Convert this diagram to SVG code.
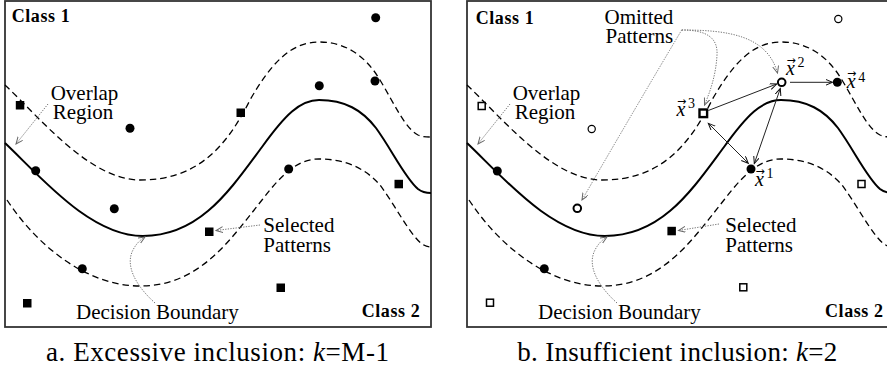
<svg xmlns="http://www.w3.org/2000/svg" width="887" height="369" viewBox="0 0 887 369">
<style>
.box{fill:#fff;stroke:#333;stroke-width:1.8}
.db{fill:none;stroke:#000;stroke-width:2}
.dash{fill:none;stroke:#000;stroke-width:1.3;stroke-dasharray:6.5 4}
.dot{fill:none;stroke:#777;stroke-width:1;stroke-dasharray:1.3 1.3}
.vec{fill:none;stroke:#222;stroke-width:1}
.lbl{font-size:21px}
.cls{font-size:18px;font-weight:bold}
.cap{font-size:27px}
.vx{font-size:20px;font-style:italic}
.va{font-size:11px;font-style:normal}
.sup{font-size:14px;font-style:normal}
.fc{fill:#000}
.oc{fill:#fff;stroke:#000;stroke-width:1.2}
.toc{fill:#fff;stroke:#000;stroke-width:2}
.os{fill:#fff;stroke:#000;stroke-width:1.5}
.tos{fill:#fff;stroke:#000;stroke-width:2.4}
</style>
<defs>
<marker id="ag" markerUnits="userSpaceOnUse" markerWidth="10" markerHeight="10" refX="7" refY="3" orient="auto"><path d="M0,0 L7,3 L0,6" fill="none" stroke="#666" stroke-width="1"/></marker>
<marker id="ab" markerUnits="userSpaceOnUse" markerWidth="10" markerHeight="10" refX="7" refY="3" orient="auto-start-reverse"><path d="M0,0 L7,3 L0,6" fill="none" stroke="#111" stroke-width="1"/></marker>
<path id="cSolid" d="M5,143 C40,176 90,236 143,236 C200,236 230,190 262,147 C285,115 300,100 319,100 C345,100 362,110 376,128 C392,150 405,178 418,189 C423,193 427,193 431,193"/>
<path id="cUp" d="M5,85 C40,118 90,180 140,180 C195,180 225,150 250,100 C270,65 290,42 319,42 C345,42 365,55 380,80 C395,105 405,128 418,135 C423,137 427,137 431,137"/>
<path id="cLow" d="M7,200 C40,250 90,286 140,286 C200,286 230,240 262,200 C285,170 300,159 319,159 C345,159 365,168 380,185 C395,205 410,235 422,244 C425,246 428,247 431,247"/>
</defs>

<!-- Panel a -->
<g id="panel-a">
  <rect class="box" x="5" y="1" width="426" height="326"/>
  <g id="curves-a">
    <use href="#cUp" class="dash"/>
    <use href="#cSolid" class="db"/>
    <use href="#cLow" class="dash"/>
  </g>
  <g id="a-nodes">
    <g id="a-p1"><circle class="fc" cx="375.7" cy="17.7" r="4.5"/></g>
    <g id="a-p2"><circle class="fc" cx="319.3" cy="85.7" r="4.5"/></g>
    <g id="a-p3"><circle class="fc" cx="375" cy="81" r="4.5"/></g>
    <g id="a-p4"><circle class="fc" cx="130" cy="128.3" r="4.5"/></g>
    <g id="a-p5"><circle class="fc" cx="35.7" cy="170.7" r="4.5"/></g>
    <g id="a-p6"><circle class="fc" cx="288.7" cy="169" r="4.5"/></g>
    <g id="a-p7"><circle class="fc" cx="114.3" cy="208.7" r="4.5"/></g>
    <g id="a-p8"><circle class="fc" cx="82.3" cy="268.7" r="4.5"/></g>
    <g id="a-q1"><rect class="fc" x="15.8" y="101" width="8.5" height="8.5"/></g>
    <g id="a-q2"><rect class="fc" x="236.5" y="108.5" width="8.5" height="8.5"/></g>
    <g id="a-q3"><rect class="fc" x="394.5" y="179.8" width="8.5" height="8.5"/></g>
    <g id="a-q4"><rect class="fc" x="205" y="227.5" width="8.5" height="8.5"/></g>
    <g id="a-q5"><rect class="fc" x="276.5" y="283.5" width="8.5" height="8.5"/></g>
    <g id="a-q6"><rect class="fc" x="23" y="299" width="8.5" height="8.5"/></g>
  </g>
  <g id="a-connectors">
    <path class="dot" d="M48,104 L16,144" marker-end="url(#ag)"/>
    <path class="dot" d="M260,225 L216,230.5" marker-end="url(#ag)"/>
    <path class="dot" d="M155,303 C135,285 125,265 133,250 C136,244 140,240 145,237" marker-end="url(#ag)"/>
  </g>
  <g id="a-labels" font-family="Liberation Serif, Times New Roman, serif" fill="#000">
    <text class="cls" x="11.7" y="21.7" textLength="58">Class 1</text>
    <text class="cls" x="361.7" y="316.7" textLength="58">Class 2</text>
    <text class="lbl" x="50.7" y="100">Overlap</text>
    <text class="lbl" x="52.7" y="119">Region</text>
    <text class="lbl" x="263.3" y="231.7">Selected</text>
    <text class="lbl" x="263.3" y="251.7">Patterns</text>
    <text class="lbl" x="76" y="319">Decision Boundary</text>
  </g>
</g>

<!-- Panel b -->
<g id="panel-b" transform="translate(462,0)">
  <rect class="box" x="5" y="1" width="426" height="326"/>
  <g id="curves-b">
    <use href="#cUp" class="dash"/>
    <use href="#cSolid" class="db"/>
    <use href="#cLow" class="dash"/>
  </g>
  <g id="b-nodes">
    <g id="b-o1"><circle class="oc" cx="376.3" cy="19" r="3.6"/></g>
    <g id="b-o2"><circle class="oc" cx="129.7" cy="129" r="3.6"/></g>
    <g id="b-s1"><rect class="os" x="16.2" y="102.5" width="7" height="7"/></g>
    <g id="b-s2"><rect class="os" x="24.5" y="299.2" width="7" height="7"/></g>
    <g id="b-s3"><rect class="os" x="277.8" y="283.8" width="7" height="7"/></g>
    <g id="b-s4"><rect class="os" x="396" y="180.5" width="7" height="7"/></g>
    <g id="b-f1"><circle class="fc" cx="35.3" cy="171" r="4.5"/></g>
    <g id="b-f2"><circle class="fc" cx="82.3" cy="268.7" r="4.5"/></g>
    <g id="b-om"><circle class="toc" cx="115.3" cy="208.3" r="3.8"/></g>
    <g id="b-sel"><rect class="fc" x="205.4" y="226.8" width="8.5" height="8.5"/></g>
    <g id="b-x1"><circle class="fc" cx="289" cy="169" r="4.5"/></g>
    <g id="b-x2"><circle class="toc" cx="319.7" cy="82.3" r="3.8"/></g>
    <g id="b-x3"><rect class="tos" x="237.5" y="109.5" width="7.6" height="7.6"/></g>
    <g id="b-x4"><circle class="fc" cx="375.3" cy="82.3" r="4.5"/></g>
  </g>
  <g id="b-connectors">
    <path class="dot" d="M48,104 L16,144" marker-end="url(#ag)"/>
    <path class="dot" d="M257,224 L216.5,230.5" marker-end="url(#ag)"/>
    <path class="dot" d="M155,303 C135,285 125,265 133,250 C136,244 140,240 145,237" marker-end="url(#ag)"/>
    <path class="dot" d="M219.7,30 C265,30 305,35 315.5,73" marker-end="url(#ag)"/>
    <path class="dot" d="M219.7,30 C245,30 256,38 255,55 C254,75 248,92 242.5,105" marker-end="url(#ag)"/>
    <path class="dot" d="M219.7,30 Q175,105 120,200" marker-end="url(#ag)"/>
    <path class="vec" d="M246.3,110.5 L314.7,84" marker-end="url(#ab)"/>
    <path class="vec" d="M246.3,123.3 L286.3,163.3" marker-start="url(#ab)" marker-end="url(#ab)"/>
    <path class="vec" d="M318.3,88.5 L292.3,163.5" marker-start="url(#ab)" marker-end="url(#ab)"/>
    <path class="vec" d="M328,82.3 L370.5,82.3" marker-end="url(#ab)"/>
  </g>
  <g id="b-labels" font-family="Liberation Serif, Times New Roman, serif" fill="#000">
    <text class="cls" x="13.7" y="24" textLength="58">Class 1</text>
    <text class="cls" x="363" y="316.7" textLength="58">Class 2</text>
    <text class="lbl" x="50.7" y="100">Overlap</text>
    <text class="lbl" x="52.7" y="119">Region</text>
    <text class="lbl" x="263.3" y="231.7">Selected</text>
    <text class="lbl" x="263.3" y="251.7">Patterns</text>
    <text class="lbl" x="76" y="319">Decision Boundary</text>
    <text class="lbl" x="142.5" y="24">Omitted</text>
    <text class="lbl" x="143.5" y="42.5">Patterns</text>
    <text class="vx" x="214.5" y="116">x<tspan class="va" font-family="DejaVu Sans, sans-serif" dx="-8.5" dy="-11">→</tspan><tspan class="sup" dx="2" dy="3.3">3</tspan></text>
    <text class="vx" x="324" y="75">x<tspan class="va" font-family="DejaVu Sans, sans-serif" dx="-8.5" dy="-11">→</tspan><tspan class="sup" dx="2" dy="2.7">2</tspan></text>
    <text class="vx" x="384.7" y="87.5">x<tspan class="va" font-family="DejaVu Sans, sans-serif" dx="-8.5" dy="-11">→</tspan><tspan class="sup" dx="2" dy="5.2">4</tspan></text>
    <text class="vx" x="293" y="186">x<tspan class="va" font-family="DejaVu Sans, sans-serif" dx="-8.5" dy="-11">→</tspan><tspan class="sup" dx="2" dy="2.7">1</tspan></text>
  </g>
</g>

<g id="captions" font-family="Liberation Serif, Times New Roman, serif" fill="#000">
  <text class="cap" x="46" y="361" textLength="343">a. Excessive inclusion: <tspan font-style="italic">k</tspan>=M-1</text>
  <text class="cap" x="517.3" y="361" textLength="320">b. Insufficient inclusion: <tspan font-style="italic">k</tspan>=2</text>
</g>
</svg>
